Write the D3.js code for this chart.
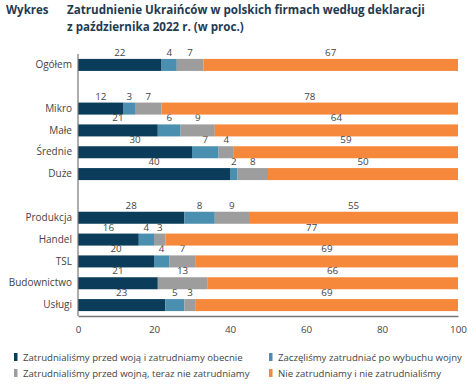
<!DOCTYPE html>
<html>
<head>
<meta charset="utf-8">
<script src="https://cdn.jsdelivr.net/npm/d3@7"></script>
<style>
  body { margin: 0; background: #fff; }
  svg { display: block; font-family: "Open Sans", "DejaVu Sans", sans-serif; }
</style>
</head>
<body>
<svg id="chart" width="468" height="390"></svg>
<script>
// kategorie (null = odstęp między grupami)
const categories = ["Ogółem", null, "Mikro", "Małe", "Średnie", "Duże", null,
  "Produkcja", "Handel", "TSL", "Budownictwo", "Usługi"];

const legendLabels = [
  "Zatrudnialiśmy przed woją i zatrudniamy obecnie",
  "Zaczęliśmy zatrudniać po wybuchu wojny",
  "Zatrudnialiśmy przed wojną, teraz nie zatrudniamy",
  "Nie zatrudniamy i nie zatrudnialiśmy"
];

const before_and_now = [22, null, 12, 21, 30, 40, null, 28, 16, 20, 21, 23];
const after_war      = [4,  null, 3,  6,  7,  2,  null, 8,  4,  4,  0,  5];
const before_only    = [7,  null, 7,  9,  4,  8,  null, 9,  3,  7,  13, 3];
const never          = [67, null, 78, 64, 59, 50, null, 55, 77, 69, 66, 69];

const xTicks = [0, 20, 40, 60, 80, 100];
const colors = ["#0b3d5a", "#4a8fb0", "#9d9d9d", "#f5883a"];

const margin = {top: 54, right: 10, bottom: 74, left: 78};
const width = 458 - margin.left;
const height = 316 - margin.top;

const svg = d3.select("#chart");

// tytuł
svg.append("text").attr("x", 6).attr("y", 14)
  .attr("font-size", 11.5).attr("font-weight", 700).attr("fill", "#1f3b50")
  .text("Wykres");
svg.append("text").attr("x", 67).attr("y", 14)
  .attr("font-size", 11.6).attr("font-weight", 700).attr("fill", "#1f3b50")
  .text("Zatrudnienie Ukraińców w polskich firmach według deklaracji");
svg.append("text").attr("x", 67).attr("y", 31)
  .attr("font-size", 11.6).attr("font-weight", 700).attr("fill", "#1f3b50")
  .text("z października 2022 r. (w proc.)");

const keys = categories.map((c, i) => c === null ? "_gap" + i : c);
const rows = keys.map((k, i) => ({
  key: k, label: categories[i],
  s0: before_and_now[i], s1: after_war[i], s2: before_only[i], s3: never[i]
})).filter(d => d.label !== null);

const x = d3.scaleLinear().domain([0, 100]).range([0, width]);
const y = d3.scaleBand().domain(keys).range([0, height]).paddingInner(0.45).paddingOuter(0.225);

const g = svg.append("g").attr("transform", `translate(${margin.left},${margin.top})`);

const stack = d3.stack().keys(["s0", "s1", "s2", "s3"]);
const layers = stack(rows);

layers.forEach((layer, li) => {
  g.append("g").selectAll("rect")
    .data(layer)
    .join("rect")
      .attr("x", d => x(d[0]))
      .attr("y", d => y(d.data.key))
      .attr("width", d => x(d[1]) - x(d[0]))
      .attr("height", y.bandwidth())
      .attr("fill", colors[li]);

  g.append("g").selectAll("text")
    .data(layer.filter(d => d[1] - d[0] > 0))
    .join("text")
      .attr("x", d => x((d[0] + d[1]) / 2))
      .attr("y", d => y(d.data.key) - 3)
      .attr("text-anchor", "middle")
      .attr("font-size", 9.8)
      .attr("fill", "#444")
      .text(d => d[1] - d[0]);
});

// oś y
const yAxis = g.append("g")
  .call(d3.axisLeft(y).tickSize(0).tickPadding(6)
    .tickFormat(k => k.startsWith("_gap") ? "" : k));
yAxis.select(".domain").attr("stroke", "#777").attr("stroke-width", 1.2).attr("d", `M0,0V${height}`);
yAxis.selectAll("text").attr("font-size", 10).attr("fill", "#444")
  .attr("font-family", "Open Sans, sans-serif");

// oś x
const xAxis = g.append("g").attr("transform", `translate(0,${height})`)
  .call(d3.axisBottom(x).tickValues(xTicks).tickSize(0).tickPadding(10));
xAxis.select(".domain").attr("stroke", "#777").attr("stroke-width", 1.5);
xAxis.selectAll("text").attr("font-size", 9.8).attr("fill", "#444")
  .attr("font-family", "Open Sans, sans-serif");

// legenda
const legendPos = [[14, 357], [269, 357], [14, 373], [269, 373]];
const legend = svg.append("g").selectAll("g")
  .data(legendLabels)
  .join("g")
    .attr("transform", (d, i) => `translate(${legendPos[i][0]},${legendPos[i][1]})`);
legend.append("rect").attr("x", 0).attr("y", -4).attr("width", 3.5).attr("height", 8)
  .attr("fill", (d, i) => colors[i]);
legend.append("text").attr("x", 9).attr("y", 3.5)
  .attr("font-size", 9.6).attr("fill", "#444")
  .text(d => d);
</script>
</body>
</html>
